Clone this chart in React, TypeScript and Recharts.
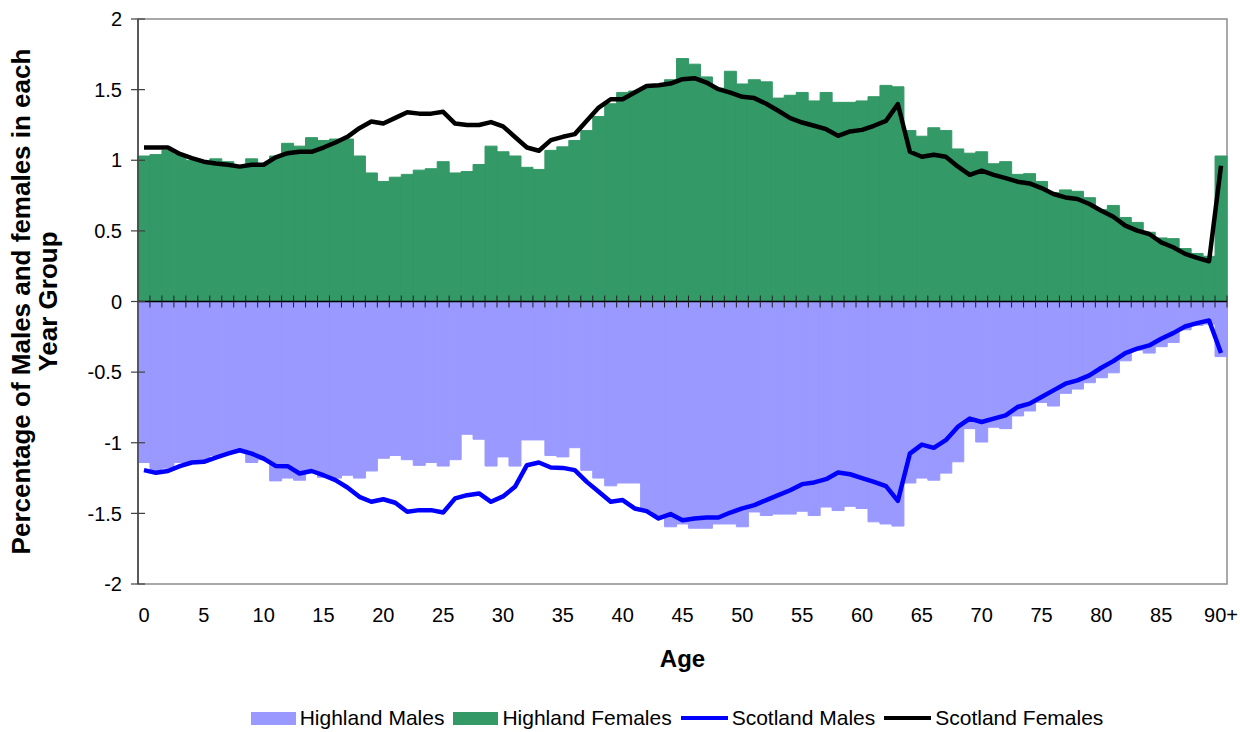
import React from "react";
import {
  ComposedChart, Bar, Line, XAxis, YAxis, ReferenceLine, ReferenceArea, Legend,
} from "recharts";

// ─────────────────────────────────────────────────────────────────────────────
// Data (percent of population in each single year of age)
// ─────────────────────────────────────────────────────────────────────────────

const ages = [
  ...Array.from({ length: 90 }, (_, i) => String(i)),
  "90+",
];

const highlandFemales = [
  1.03, 1.04, 1.07, 1.04, 1.0, 0.99, 1.01, 0.99, 0.96, 1.01,
  0.97, 1.03, 1.12, 1.1, 1.16, 1.14, 1.15, 1.15, 1.03, 0.91,
  0.85, 0.88, 0.9, 0.93, 0.94, 0.99, 0.91, 0.92, 0.97, 1.1,
  1.06, 1.03, 0.95, 0.935, 1.07, 1.095, 1.14, 1.21, 1.31, 1.4,
  1.48, 1.49, 1.515, 1.53, 1.57, 1.72, 1.68, 1.59, 1.51, 1.63,
  1.54, 1.57, 1.555, 1.44, 1.46, 1.48, 1.42, 1.48, 1.41, 1.41,
  1.42, 1.45, 1.53, 1.52, 1.21, 1.17, 1.23, 1.21, 1.08, 1.05,
  1.06, 0.975, 0.99, 0.9, 0.905, 0.85, 0.77, 0.79, 0.78, 0.735,
  0.65, 0.68, 0.595, 0.56, 0.49, 0.45, 0.445, 0.375, 0.34, 0.32,
  1.03,
];

const highlandMales = [
  -1.14, -1.21, -1.18, -1.14, -1.14, -1.12, -1.09, -1.07, -1.06, -1.14,
  -1.12, -1.27, -1.25, -1.265, -1.21, -1.245, -1.25, -1.23, -1.25, -1.2,
  -1.11, -1.09, -1.12, -1.16, -1.14, -1.165, -1.12, -0.94, -0.975, -1.165,
  -1.1, -1.165, -0.98, -0.98, -1.09, -1.1, -1.035, -1.195, -1.25, -1.305,
  -1.285, -1.285, -1.48, -1.52, -1.595, -1.575, -1.605, -1.605, -1.575, -1.575,
  -1.595, -1.49, -1.515, -1.505, -1.505, -1.485, -1.515, -1.455, -1.48, -1.45,
  -1.465, -1.56, -1.575, -1.59, -1.285, -1.25, -1.265, -1.215, -1.135, -0.9,
  -0.995, -0.89, -0.9, -0.81, -0.775, -0.715, -0.74, -0.65, -0.62, -0.575,
  -0.54, -0.505, -0.42, -0.345, -0.365, -0.32, -0.29, -0.2, -0.17, -0.16,
  -0.39,
];

const scotlandFemales = [
  1.09, 1.09, 1.09, 1.045, 1.015, 0.99, 0.977, 0.968, 0.955, 0.968,
  0.968, 1.02, 1.05, 1.06, 1.06, 1.09, 1.126, 1.166, 1.227, 1.274,
  1.26, 1.3, 1.34, 1.33, 1.33, 1.343, 1.26, 1.25, 1.25, 1.27,
  1.24, 1.165, 1.09, 1.067, 1.143, 1.166, 1.185, 1.279, 1.373, 1.432,
  1.432, 1.479, 1.526, 1.531, 1.543, 1.574, 1.581, 1.55, 1.503, 1.479,
  1.449, 1.44, 1.4, 1.35, 1.298, 1.267, 1.244, 1.22, 1.173, 1.204,
  1.215, 1.244, 1.279, 1.397, 1.06, 1.025, 1.039, 1.025, 0.956, 0.897,
  0.926, 0.897, 0.874, 0.848, 0.836, 0.803, 0.761, 0.737, 0.726, 0.69,
  0.643, 0.6, 0.537, 0.502, 0.478, 0.419, 0.384, 0.337, 0.309, 0.285,
  0.961,
];

const scotlandMales = [
  -1.194, -1.213, -1.2, -1.166, -1.14, -1.135, -1.105, -1.077, -1.053, -1.077,
  -1.112, -1.164, -1.166, -1.218, -1.2, -1.23, -1.265, -1.317, -1.383, -1.418,
  -1.4, -1.425, -1.489, -1.477, -1.477, -1.494, -1.394, -1.371, -1.359, -1.418,
  -1.38, -1.312, -1.159, -1.14, -1.175, -1.178, -1.194, -1.277, -1.347, -1.418,
  -1.406, -1.465, -1.484, -1.536, -1.505, -1.548, -1.536, -1.529, -1.529, -1.494,
  -1.465, -1.442, -1.406, -1.371, -1.336, -1.293, -1.281, -1.258, -1.211, -1.223,
  -1.25, -1.277, -1.307, -1.411, -1.077, -1.013, -1.036, -0.982, -0.888, -0.829,
  -0.853, -0.829, -0.806, -0.747, -0.723, -0.676, -0.629, -0.582, -0.558, -0.523,
  -0.469, -0.422, -0.365, -0.334, -0.311, -0.264, -0.224, -0.177, -0.153, -0.134,
  -0.365,
];

const yTicks = [2, 1.5, 1, 0.5, 0, -0.5, -1, -1.5, -2];

const data = ages.map((age, i) => ({
  age,
  hm: highlandMales[i],
  hf: highlandFemales[i],
  sm: scotlandMales[i],
  sf: scotlandFemales[i],
}));

// ─────────────────────────────────────────────────────────────────────────────
// Styling
// ─────────────────────────────────────────────────────────────────────────────

const FONT = '"Liberation Sans", Arial, Helvetica, sans-serif';

const COLORS = {
  males:     "#9999FF",
  females:   "#339966",
  scotMales: "#0000FF",
  scotFem:   "#000000",
  axis:      "#404040",
  border:    "#8C8C8C",
};

const legendItems = [
  { label: "Highland Males",   color: COLORS.males,     kind: "rect" },
  { label: "Highland Females", color: COLORS.females,   kind: "rect" },
  { label: "Scotland Males",   color: COLORS.scotMales, kind: "line" },
  { label: "Scotland Females", color: COLORS.scotFem,   kind: "line" },
];

// ─────────────────────────────────────────────────────────────────────────────
// Custom pieces
// ─────────────────────────────────────────────────────────────────────────────

// zero line with Excel-style crossing ticks between categories
function ZeroAxis(props: any) {
  const { x1, x2, y1 } = props;
  const step = (x2 - x1) / ages.length;
  return (
    <g>
      <line x1={x1} x2={x2} y1={y1} y2={y1} stroke="#000" strokeWidth={1.5} />
      {ages.map((_, i) => {
        const x = x1 + step * (i + 1);
        return (
          <line key={i} x1={x} x2={x} y1={y1 - 6} y2={y1 + 6} stroke="#202020" strokeWidth={1} />
        );
      })}
    </g>
  );
}

function YTick({ x, y, payload }: any) {
  return (
    <g>
      <line x1={x + 9} x2={x + 23} y1={y} y2={y} stroke={COLORS.axis} strokeWidth={1.2} />
      <text x={x} y={y} dy="0.36em" textAnchor="end" fontSize={20} fontFamily={FONT} fill="#000">
        {String(payload.value)}
      </text>
    </g>
  );
}

function YTitle({ viewBox }: any) {
  const cy = viewBox.y + viewBox.height / 2;
  const x1 = viewBox.x - 48;
  const x2 = viewBox.x - 21;
  const style = { fontSize: 26, fontWeight: 700, fontFamily: FONT, fill: "#000" };
  return (
    <g>
      <text x={x1} y={cy} textAnchor="middle" transform={`rotate(-90, ${x1}, ${cy})`} style={style}>
        Percentage of Males and females in each
      </text>
      <text x={x2} y={cy} textAnchor="middle" transform={`rotate(-90, ${x2}, ${cy})`} style={style}>
        Year Group
      </text>
    </g>
  );
}

function XTitle({ viewBox }: any) {
  return (
    <text
      x={viewBox.x + viewBox.width / 2}
      y={viewBox.y + 83}
      textAnchor="middle"
      style={{ fontSize: 24, fontWeight: 700, fontFamily: FONT, fill: "#000" }}
    >
      Age
    </text>
  );
}

function LegendContent() {
  return (
    <div
      style={{
        height: 28, display: "flex", alignItems: "center", justifyContent: "center",
        fontFamily: FONT, fontSize: 21, color: "#000", whiteSpace: "nowrap",
      }}
    >
      {legendItems.map((it) => (
        <div key={it.label} style={{ display: "flex", alignItems: "center", marginRight: 9 }}>
          {it.kind === "rect" ? (
            <span style={{ width: 45, height: 13, background: it.color, display: "inline-block" }} />
          ) : (
            <span style={{ width: 47, height: 4, background: it.color, display: "inline-block" }} />
          )}
          <span style={{ marginLeft: 4 }}>{it.label}</span>
        </div>
      ))}
    </div>
  );
}

// ─────────────────────────────────────────────────────────────────────────────
// Chart
// ─────────────────────────────────────────────────────────────────────────────

export default function App() {
  return (
    <div style={{ position: "absolute", left: 0, top: 0, width: 1240, height: 732, background: "#fff" }}>
      <ComposedChart
        width={1240}
        height={732}
        data={data}
        stackOffset="sign"
        barCategoryGap={0}
        barGap={0}
        margin={{ top: 19, right: 13, bottom: 0, left: 78 }}
      >
        <XAxis
          dataKey="age"
          interval={4}
          height={120}
          axisLine={false}
          tickLine={false}
          tickMargin={18}
          tick={{ fontSize: 20, fontFamily: FONT, fill: "#000" }}
          label={{ content: XTitle }}
        />
        <YAxis
          domain={[-2, 2]}
          ticks={yTicks}
          width={60}
          tickSize={7}
          tickMargin={9}
          tickLine={false}
          axisLine={{ stroke: COLORS.axis, strokeWidth: 1.5 }}
          tick={<YTick />}
          label={{ content: YTitle }}
        />
        <Legend
          verticalAlign="bottom"
          content={<LegendContent />}
          wrapperStyle={{ left: 137, width: 1089, bottom: 0 }}
        />

        <Bar
          dataKey="hm" name="Highland Males" stackId="pop"
          fill={COLORS.males} stroke={COLORS.males} strokeWidth={1}
          isAnimationActive={false}
        />
        <Bar
          dataKey="hf" name="Highland Females" stackId="pop"
          fill={COLORS.females} stroke={COLORS.females} strokeWidth={1}
          isAnimationActive={false}
        />

        <ReferenceArea y1={-2} y2={2} fill="none" fillOpacity={0} stroke={COLORS.border} strokeWidth={1.5} />
        <ReferenceLine y={0} shape={ZeroAxis} />

        <Line
          dataKey="sm" name="Scotland Males" type="linear"
          stroke={COLORS.scotMales} strokeWidth={4.5} dot={false} activeDot={false}
          strokeLinejoin="round" isAnimationActive={false}
        />
        <Line
          dataKey="sf" name="Scotland Females" type="linear"
          stroke={COLORS.scotFem} strokeWidth={4.5} dot={false} activeDot={false}
          strokeLinejoin="round" isAnimationActive={false}
        />
      </ComposedChart>
    </div>
  );
}
